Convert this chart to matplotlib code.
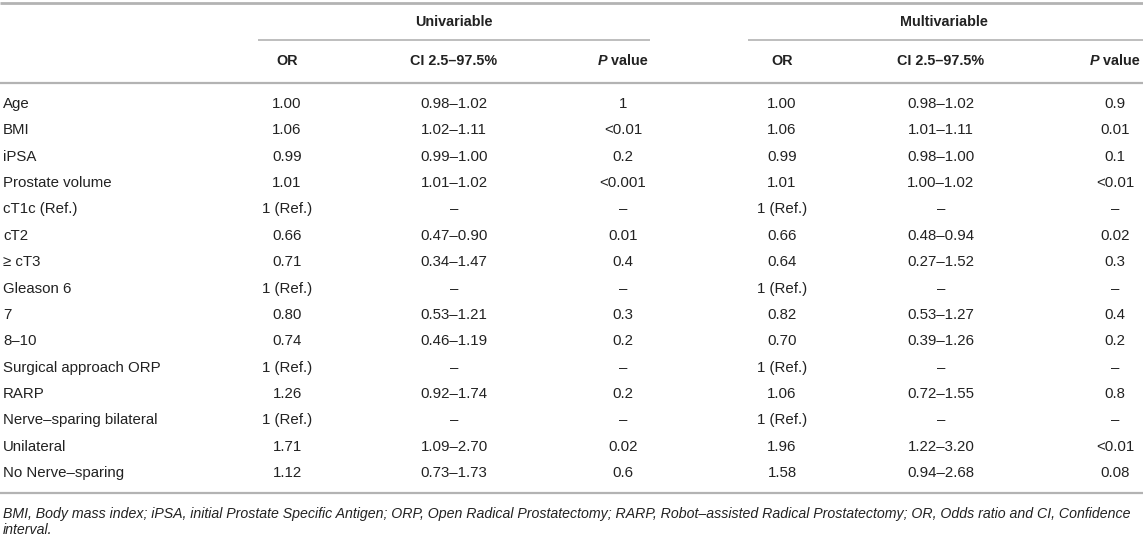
import matplotlib
matplotlib.use("Agg")
import matplotlib.pyplot as plt

plt.rcParams['font.family'] = ['Liberation Sans', 'DejaVu Sans']

# table contents
labels = ["Age", "BMI", "iPSA", "Prostate volume", "cT1c (Ref.)", "cT2", "\u2265 cT3",
          "Gleason 6", "7", "8\u201310", "Surgical approach ORP", "RARP",
          "Nerve\u2013sparing bilateral", "Unilateral", "No Nerve\u2013sparing"]
uni_or = ["1.00", "1.06", "0.99", "1.01", "1 (Ref.)", "0.66", "0.71", "1 (Ref.)",
          "0.80", "0.74", "1 (Ref.)", "1.26", "1 (Ref.)", "1.71", "1.12"]
uni_ci = ["0.98\u20131.02", "1.02\u20131.11", "0.99\u20131.00", "1.01\u20131.02", "\u2013",
          "0.47\u20130.90", "0.34\u20131.47", "\u2013", "0.53\u20131.21", "0.46\u20131.19",
          "\u2013", "0.92\u20131.74", "\u2013", "1.09\u20132.70", "0.73\u20131.73"]
uni_p = ["1", "<0.01", "0.2", "<0.001", "\u2013", "0.01", "0.4", "\u2013", "0.3", "0.2",
         "\u2013", "0.2", "\u2013", "0.02", "0.6"]
mul_or = ["1.00", "1.06", "0.99", "1.01", "1 (Ref.)", "0.66", "0.64", "1 (Ref.)",
          "0.82", "0.70", "1 (Ref.)", "1.06", "1 (Ref.)", "1.96", "1.58"]
mul_ci = ["0.98\u20131.02", "1.01\u20131.11", "0.98\u20131.00", "1.00\u20131.02", "\u2013",
          "0.48\u20130.94", "0.27\u20131.52", "\u2013", "0.53\u20131.27", "0.39\u20131.26",
          "\u2013", "0.72\u20131.55", "\u2013", "1.22\u20133.20", "0.94\u20132.68"]
mul_p = ["0.9", "0.01", "0.1", "<0.01", "\u2013", "0.02", "0.3", "\u2013", "0.4", "0.2",
         "\u2013", "0.8", "\u2013", "<0.01", "0.08"]
groups = ["Univariable", "Multivariable"]
footnote = ["BMI, Body mass index; iPSA, initial Prostate Specific Antigen; ORP, Open Radical "
            "Prostatectomy; RARP, Robot\u2013assisted Radical Prostatectomy; OR, Odds ratio and CI, "
            "Confidence",
            "interval."]

# layout (pixels)
W, H = 1143, 539
TXT = "#222222"
LINE = "#b3b3b3"
FS = 10.8
FS_HEAD = 10.4
col_x = [287, 454, 623, 782, 941, 1115]
group_x = [454, 944]
group_span = [(258, 650), (748, 1143)]
row_y0, row_dy = 104, 26.36

fig = plt.figure(figsize=(W / 100, H / 100), dpi=100)
ax = fig.add_axes([0, 0, 1, 1])
ax.set_xlim(0, W)
ax.set_ylim(H, 0)
ax.axis("off")

# rules
ax.plot([0, W], [3, 3], color=LINE, lw=2.0, solid_capstyle="butt")
ax.plot([0, W], [83, 83], color=LINE, lw=1.6, solid_capstyle="butt")
ax.plot([0, W], [493, 493], color=LINE, lw=1.6, solid_capstyle="butt")
for (a, b) in group_span:
    ax.plot([a, b], [40, 40], color=LINE, lw=1.2, solid_capstyle="butt")

# group headers
for name, gx in zip(groups, group_x):
    ax.text(gx, 22, name, ha="center", va="center", fontsize=FS_HEAD,
            fontweight="bold", color=TXT)

# column headers
fig.canvas.draw()
rend = fig.canvas.get_renderer()
for k in range(2):
    ax.text(col_x[3 * k], 61, "OR", ha="center", va="center", fontsize=FS_HEAD,
            fontweight="bold", color=TXT)
    ax.text(col_x[3 * k + 1], 61, "CI 2.5\u201397.5%", ha="center", va="center",
            fontsize=FS_HEAD, fontweight="bold", color=TXT)
    # "P value" with italic P
    tp = ax.text(0, 61, "P", ha="left", va="center", fontsize=FS_HEAD, fontweight="bold",
                 style="italic", color=TXT)
    tv = ax.text(0, 61, "\u00a0value", ha="left", va="center", fontsize=FS_HEAD,
                 fontweight="bold", color=TXT)
    wp = tp.get_window_extent(rend).width
    wv = tv.get_window_extent(rend).width
    x0 = col_x[3 * k + 2] - (wp + wv) / 2
    tp.set_x(x0)
    tv.set_x(x0 + wp)

# body rows
cols = [uni_or, uni_ci, uni_p, mul_or, mul_ci, mul_p]
for i, lab in enumerate(labels):
    y = row_y0 + i * row_dy
    ax.text(3, y, lab, ha="left", va="center", fontsize=FS, color=TXT)
    for cx, col in zip(col_x, cols):
        ax.text(cx, y, col[i], ha="center", va="center", fontsize=FS, color=TXT)

# footnote, sized to span the table width
fn = ax.text(3, 514, footnote[0], ha="left", va="center", fontsize=9.5,
             style="italic", color=TXT)
w = fn.get_window_extent(rend).width
fs_fn = 9.5 * 1136 / w
fn.set_fontsize(fs_fn)
ax.text(3, 530, footnote[1], ha="left", va="center", fontsize=fs_fn,
        style="italic", color=TXT)

fig.savefig("out.png", dpi=100)
